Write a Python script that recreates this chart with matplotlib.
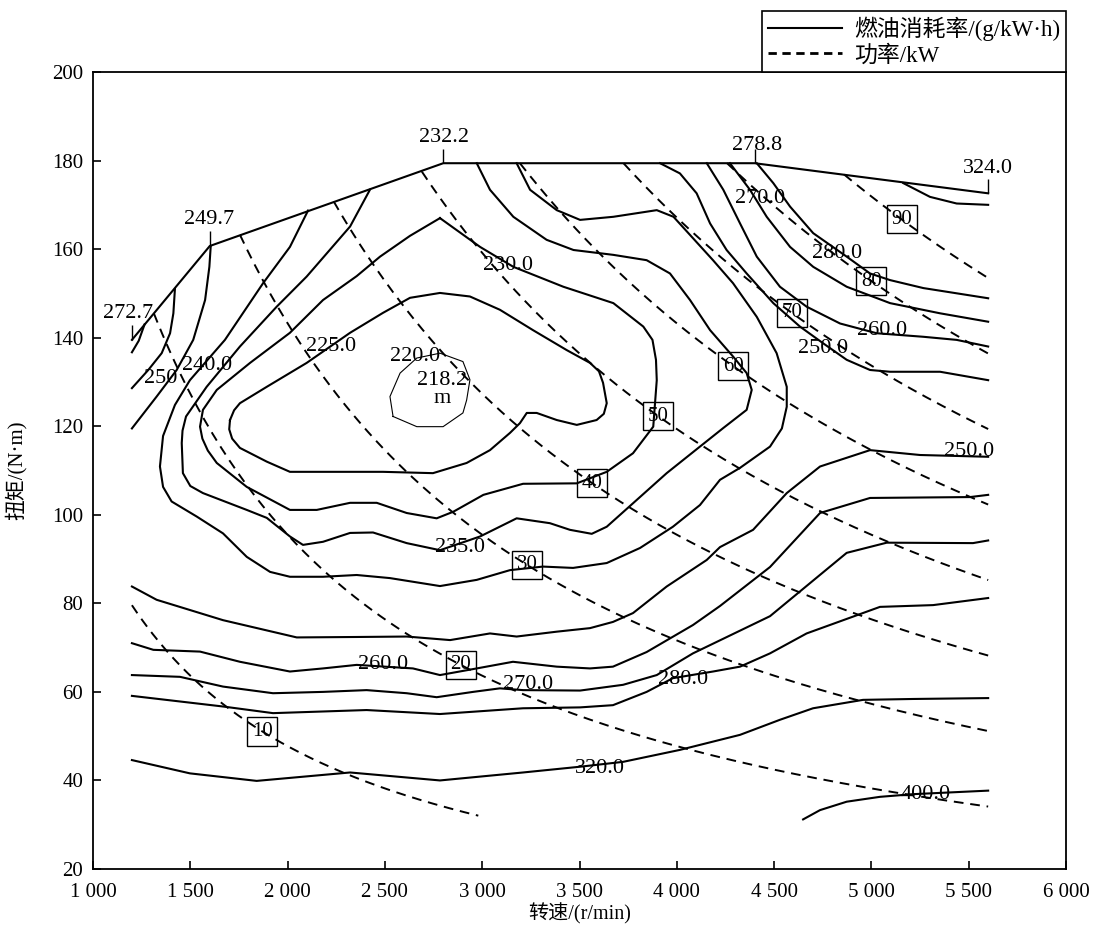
import numpy as np
import matplotlib.pyplot as plt
from matplotlib.lines import Line2D

plt.rcParams['font.family'] = ['Liberation Serif', 'Noto Sans CJK SC', 'DejaVu Sans']

# full-load torque line and the BSFC read at its corner points
wot_rpm = [1200, 1600, 2800, 4400, 5600]
wot_nm = [139.5, 160.7, 179.4, 179.4, 172.6]
wot_bsfc = ['272.7', '249.7', '232.2', '278.8', '324.0']

# BSFC iso-lines, g/(kW.h)
c220_rpm = [2542, 2526, 2578, 2664, 2783, 2901, 2937, 2920, 2901, 2799, 2664, 2542]
c220_nm = [122.2, 126.7, 132.0, 135.4, 136.5, 134.6, 130.5, 125.9, 123.0, 119.9, 119.9, 122.2]

c225_rpm = [1704, 1725, 1755, 1893, 2098, 2321, 2490, 2629, 2783, 2937, 3091, 3261, 3434, 3554,
            3600, 3621, 3640, 3625, 3588, 3486, 3383, 3280, 3229, 3194, 3143, 3040, 2920, 2747,
            2490, 2233, 2012, 1893, 1755, 1715, 1700, 1704]
c225_nm = [121.4, 123.6, 125.2, 128.9, 134.3, 141.1, 145.6, 149.0, 150.1, 149.3, 146.3, 141.7,
           137.2, 134.3, 132.4, 129.8, 125.2, 122.8, 121.4, 120.3, 121.4, 123.0, 123.0, 120.7,
           118.5, 114.6, 111.7, 109.4, 109.7, 109.7, 109.7, 112.0, 115.1, 117.2, 119.3, 121.4]

c230_rpm = [2783, 2989, 3160, 3417, 3674, 3828, 3875, 3893, 3897, 3879, 3775, 3640, 3486, 3210,
            3006, 2852, 2766, 2612, 2458, 2321, 2150, 2012, 1790, 1636, 1590, 1562, 1550, 1565,
            1636, 1807, 2012, 2182, 2355, 2475, 2629, 2783]
c230_nm = [167.0, 160.5, 156.0, 151.5, 147.8, 142.5, 139.5, 135.0, 130.4, 119.9, 113.9, 109.7,
           107.1, 107.0, 104.5, 100.7, 99.2, 100.4, 102.7, 102.7, 101.1, 101.1, 106.3, 111.7,
           114.5, 117.2, 119.9, 123.7, 128.2, 134.3, 141.1, 148.5, 153.9, 158.3, 163.0, 167.0]

c235_rpm = [2423, 2321, 2098, 1944, 1755, 1584, 1478, 1460, 1456, 1462, 1500, 1565, 1790, 1893,
            2012, 2079, 2182, 2321, 2439, 2612, 2783, 2989, 3177, 3348, 3451, 3563, 3640, 3775,
            3948, 4119, 4239, 4359, 4385, 4359, 4290, 4171, 4068, 3965, 3845, 3674, 3469, 3331,
            3160, 3040, 2972]
c235_nm = [173.4, 165.1, 153.8, 147.0, 138.0, 128.9, 122.2, 119.0, 116.2, 109.4, 106.5, 104.9,
           101.1, 99.3, 95.1, 93.2, 93.9, 95.9, 96.0, 93.6, 92.0, 95.1, 99.2, 98.1, 96.6, 95.7,
           97.3, 102.6, 109.4, 115.4, 119.6, 123.7, 128.2, 132.0, 135.7, 141.7, 148.5, 154.5,
           157.5, 158.7, 159.8, 162.1, 167.3, 173.4, 179.4]

c240_rpm = [2105, 2012, 1874, 1678, 1498, 1421, 1360, 1344, 1360, 1404, 1533, 1668, 1790, 1910,
            2012, 2182, 2355, 2526, 2783, 2972, 3143, 3312, 3467, 3640, 3811, 3980, 4119, 4222,
            4325, 4479, 4540, 4565, 4565, 4513, 4411, 4289, 4186, 4068, 3983, 3897, 3674, 3503,
            3383, 3246, 3177]
c240_nm = [168.7, 160.5, 152.3, 139.5, 130.4, 124.8, 117.8, 110.9, 106.3, 103.0, 99.6, 95.8,
           90.5, 87.1, 86.0, 86.0, 86.4, 85.7, 83.9, 85.3, 87.5, 88.3, 88.0, 89.1, 92.5, 97.3,
           102.2, 107.9, 110.6, 115.4, 119.5, 124.4, 128.9, 136.5, 144.7, 152.3, 157.5, 163.2,
           167.3, 168.8, 167.3, 166.6, 168.8, 173.4, 179.4]

c250_left_rpm = [1200, 1327, 1430, 1515, 1576, 1598, 1605]
c250_left_nm = [119.5, 126.7, 132.7, 139.5, 148.5, 156.0, 160.7]
c260_left_rpm = [1200, 1284, 1353, 1396, 1413, 1421]
c260_left_nm = [128.6, 132.7, 136.5, 141.0, 145.5, 151.0]
c270_left_rpm = [1200, 1235, 1265]
c270_left_nm = [136.7, 139.3, 143.0]

c250_top_rpm = [3914, 4016, 4102, 4171, 4256, 4359, 4496, 4633, 4753, 4873, 4993, 5096, 5353, 5600]
c250_top_nm = [179.4, 177.1, 172.6, 165.8, 159.8, 154.5, 147.8, 142.5, 138.7, 135.0, 132.7,
               132.3, 132.3, 130.4]
c260_top_rpm = [4154, 4239, 4325, 4411, 4530, 4667, 4839, 5027, 5267, 5438, 5600]
c260_top_nm = [179.4, 173.4, 165.8, 158.3, 151.5, 147.0, 143.2, 141.0, 140.2, 139.5, 138.0]
c270_top_rpm = [4273, 4376, 4462, 4582, 4701, 4873, 5096, 5353, 5600]
c270_top_nm = [179.4, 173.4, 167.3, 160.5, 156.0, 151.5, 147.8, 145.5, 143.6]
c280_top_rpm = [4411, 4496, 4582, 4701, 4873, 4993, 5096, 5267, 5600]
c280_top_nm = [179.4, 174.9, 169.6, 163.6, 158.3, 154.5, 153.0, 151.2, 148.9]
c290_top_rpm = [5164, 5301, 5438, 5600]
c290_top_nm = [174.9, 171.8, 170.3, 170.0]

c250_low_rpm = [1200, 1327, 1668, 2047, 2355, 2612, 2835, 3040, 3177, 3383, 3554, 3672, 3775,
                3948, 4154, 4222, 4392, 4565, 4736, 4993, 5250, 5600]
c250_low_nm = [83.8, 80.8, 76.2, 72.3, 72.4, 72.5, 71.7, 73.2, 72.5, 73.6, 74.4, 75.8, 77.8,
               83.8, 89.8, 92.7, 96.6, 104.9, 110.9, 114.6, 113.5, 113.1]
c260_low_rpm = [1200, 1310, 1550, 1755, 2012, 2182, 2355, 2644, 2783, 2972, 3158, 3383, 3554,
                3672, 3845, 4083, 4222, 4479, 4736, 4993, 5507, 5600]
c260_low_nm = [71.0, 69.5, 69.1, 66.8, 64.6, 65.3, 66.1, 65.3, 63.8, 65.3, 66.8, 65.7, 65.3,
               65.7, 69.0, 75.1, 79.4, 88.2, 100.4, 103.8, 104.0, 104.5]
c270_low_rpm = [1200, 1447, 1668, 1925, 2182, 2406, 2612, 2766, 2953, 3091, 3210, 3503, 3724,
                3897, 4083, 4248, 4479, 4873, 5079, 5522, 5600]
c270_low_nm = [63.8, 63.4, 61.2, 59.7, 60.0, 60.4, 59.7, 58.8, 60.0, 60.8, 60.4, 60.3, 61.6,
               63.8, 68.7, 72.2, 77.1, 91.4, 93.7, 93.6, 94.2]
c280_low_rpm = [1200, 1668, 1925, 2406, 2783, 3210, 3503, 3672, 3845, 3980, 4186, 4325, 4479,
                4667, 5044, 5317, 5600]
c280_low_nm = [59.1, 56.7, 55.2, 55.9, 55.0, 56.3, 56.5, 57.0, 60.0, 63.1, 64.6, 65.7, 68.7,
               73.2, 79.2, 79.6, 81.2]
c320_rpm = [1200, 1498, 1841, 2321, 2783, 3210, 3503, 3724, 4016, 4325, 4530, 4700, 4957,
            5214, 5600]
c320_nm = [44.6, 41.6, 39.9, 41.8, 40.0, 41.8, 43.1, 44.2, 46.9, 50.3, 53.7, 56.3, 58.2, 58.4, 58.6]
c400_rpm = [4649, 4736, 4873, 5044, 5214, 5600]
c400_nm = [31.2, 33.3, 35.2, 36.3, 36.9, 37.7]

# constant power lines, kW
power_kw = [10, 20, 30, 40, 50, 60, 70, 80, 90]
power_rpm_from = [1200, 1313, 1755, 2237, 2690, 3194, 3726, 4258, 4860]
power_rpm_to = [2980, 5600, 5600, 5600, 5600, 5600, 5600, 5600, 5600]
power_tag_rpm = [1870, 2890, 3230, 3565, 3905, 4290, 4590, 5000, 5155]

fig = plt.figure(figsize=(10.94, 9.33), dpi=100)
ax = fig.add_axes([93 / 1094, 64 / 933, 973 / 1094, 797 / 933])

lines = [
    (c225_rpm, c225_nm), (c230_rpm, c230_nm), (c235_rpm, c235_nm), (c240_rpm, c240_nm),
    (c250_left_rpm, c250_left_nm), (c260_left_rpm, c260_left_nm), (c270_left_rpm, c270_left_nm),
    (c250_top_rpm, c250_top_nm), (c260_top_rpm, c260_top_nm), (c270_top_rpm, c270_top_nm),
    (c280_top_rpm, c280_top_nm), (c290_top_rpm, c290_top_nm),
    (c250_low_rpm, c250_low_nm), (c260_low_rpm, c260_low_nm), (c270_low_rpm, c270_low_nm),
    (c280_low_rpm, c280_low_nm), (c320_rpm, c320_nm), (c400_rpm, c400_nm),
]
for x, y in lines:
    ax.plot(x, y, color='black', lw=1.5, solid_joinstyle='round')
ax.plot(c220_rpm, c220_nm, color='black', lw=0.8)

# full-load line with its marker ticks
ax.plot(wot_rpm, wot_nm, color='black', lw=1.5)
ax.vlines(wot_rpm, wot_nm, np.array(wot_nm) + 3.3, color='black', lw=1.0)

# power lines T = 9549 P / n
for p, n0, n1, nt in zip(power_kw, power_rpm_from, power_rpm_to, power_tag_rpm):
    n = np.linspace(n0, n1, 200)
    ax.plot(n, 9549.3 * p / n, color='black', lw=1.4, linestyle=(0, (5, 3.5)))
    ax.text(nt, 9549.3 * p / nt, str(p), ha='center', va='center', fontsize=15,
            bbox=dict(boxstyle='square,pad=0.22', fc='none', ec='black', lw=1.0))

# contour value labels
value_tags = [
    ('272.7', 1180, 145.5), ('249.7', 1596, 166.6), ('232.2', 2804, 185.1),
    ('278.8', 4415, 183.5), ('324.0', 5599, 178.3),
    ('250', 1349, 130.8), ('240.0', 1588, 133.8), ('225.0', 2223, 138.0),
    ('220.0', 2655, 135.7), ('218.2', 2796, 130.4), ('m', 2792, 126.3),
    ('230.0', 3133, 156.4), ('270.0', 4428, 171.5), ('280.0', 4826, 159.1),
    ('260.0', 5057, 141.7), ('250.0', 4751, 137.6), ('250.0', 5501, 114.2),
    ('235.0', 2886, 92.5), ('260.0', 2490, 66.1), ('270.0', 3235, 61.6),
    ('280.0', 4032, 62.7), ('320.0', 3605, 42.8), ('400.0', 5281, 36.9),
]
for s, x, y in value_tags:
    ax.text(x, y, s, ha='center', va='center', fontsize=16)

ax.set_xlim(1000, 6000)
ax.set_ylim(20, 200)
xt = np.arange(1000, 6001, 500)
ax.set_xticks(xt)
ax.set_xticklabels([f'{v // 1000} {v % 1000:03d}' for v in xt])
ax.set_yticks(np.arange(20, 201, 20))
ax.tick_params(direction='in', length=6, width=1.2, labelsize=15)
ax.tick_params(axis='x', pad=10)
ax.tick_params(axis='y', pad=7)
for sp in ax.spines.values():
    sp.set_linewidth(1.3)

ax.set_xlabel('转速/(r/min)', fontsize=14.5)
ax.xaxis.set_label_coords(0.5, -0.043)
ax.set_ylabel('扭矩/(N·m)', fontsize=15)
ax.yaxis.set_label_coords(-0.068, 0.5)

handles = [Line2D([], [], color='black', lw=1.5),
           Line2D([], [], color='black', lw=2.0, linestyle=(0, (3, 2)))]
leg = ax.legend(handles, ['燃油消耗率/(g/kW·h)', '功率/kW'], loc='lower right',
                bbox_to_anchor=(1.0, 1.0), borderaxespad=0, fancybox=False,
                edgecolor='black', framealpha=1, fontsize=16.5, handlelength=3.2,
                labelspacing=0.15, borderpad=0.25, handletextpad=0.55)
leg.get_frame().set_linewidth(1.2)

fig.savefig('out.png', dpi=100)
